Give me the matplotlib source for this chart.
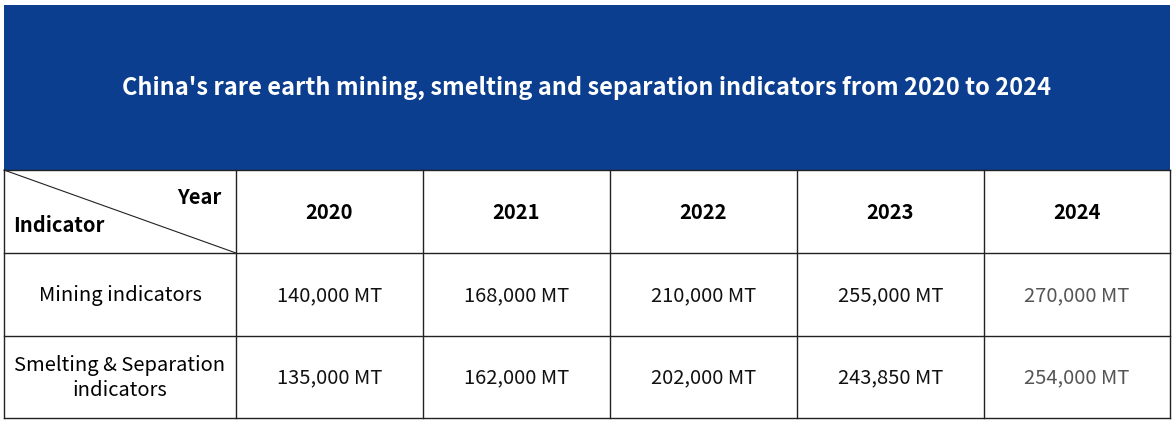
import matplotlib.pyplot as plt

title = "China's rare earth mining, smelting and separation indicators from 2020 to 2024"
years = ["2020", "2021", "2022", "2023", "2024"]
row_labels = ["Mining indicators", "Smelting & Separation\nindicators"]
mining = ["140,000 MT", "168,000 MT", "210,000 MT", "255,000 MT", "270,000 MT"]
smelting = ["135,000 MT", "162,000 MT", "202,000 MT", "243,850 MT", "254,000 MT"]

plt.rcParams['font.family'] = ['Noto Sans CJK SC', 'DejaVu Sans']

fig = plt.figure(figsize=(11.74, 4.24), dpi=100)
ax = fig.add_axes([0, 0, 1, 1])
ax.set_xlim(0, 1174)
ax.set_ylim(424, 0)
ax.axis('off')

left, right = 4, 1170
cols = [4, 236, 423, 610, 797, 984, 1170]
rows = [170, 253, 336, 418]

ax.add_patch(plt.Rectangle((left, 5), right - left, 165, color='#0c3e8f', lw=0))
ax.text((left + right) / 2, 88, title, color='white', fontsize=17, fontweight='bold',
        ha='center', va='center')

lc = '#222222'
for y in rows:
    ax.plot([left, right], [y, y], color=lc, lw=1)
for x in cols:
    ax.plot([x, x], [rows[0], rows[-1]], color=lc, lw=1)
ax.plot([cols[0], cols[1]], [rows[0], rows[1]], color=lc, lw=0.8)

fs = 14.5
ax.text(221, 197, "Year", fontsize=fs, fontweight='bold', ha='right', va='center')
ax.text(13, 226, "Indicator", fontsize=fs, fontweight='bold', ha='left', va='center')

for i, yr in enumerate(years):
    cx = (cols[i + 1] + cols[i + 2]) / 2
    ax.text(cx, (rows[0] + rows[1]) / 2 + 1, yr, fontsize=fs, fontweight='bold',
            ha='center', va='center')

for r, (lab, vals) in enumerate(zip(row_labels, [mining, smelting])):
    cy = (rows[r + 1] + rows[r + 2]) / 2 + 1
    ax.text((cols[0] + cols[1]) / 2, cy, lab, fontsize=fs, ha='center', va='center',
            linespacing=1.25)
    for i, v in enumerate(vals):
        cx = (cols[i + 1] + cols[i + 2]) / 2
        color = '#555555' if i == len(vals) - 1 else '#111111'
        ax.text(cx, cy, v, fontsize=fs, ha='center', va='center', color=color)

fig.savefig('out.png', dpi=100)
